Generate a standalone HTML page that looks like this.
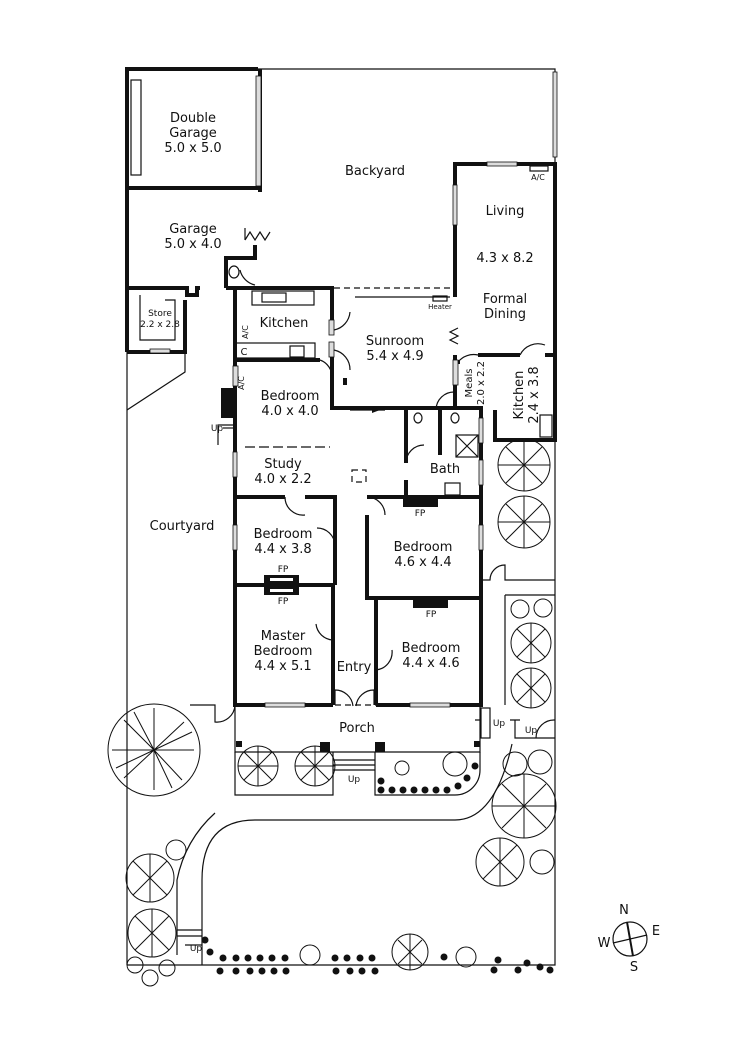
<!DOCTYPE html>
<html><head><meta charset="utf-8"><style>
html,body{margin:0;padding:0;background:#fff}
svg{display:block}
text{font-family:"DejaVu Sans","Liberation Sans",sans-serif;fill:#111;text-anchor:middle}
.t{font-size:13px}
.s{font-size:9px}
.w{stroke:#111;stroke-width:4;fill:none}
.n{stroke:#111;stroke-width:1.2;fill:none}
.d{stroke:#111;stroke-width:1.2;fill:none;stroke-dasharray:6 4}
.win{fill:#ddd;stroke:#111;stroke-width:0.8}
</style></head><body>
<svg width="750" height="1060" viewBox="0 0 750 1060" xmlns="http://www.w3.org/2000/svg">
<defs>
<g id="tree">
<circle r="1" fill="none" stroke="#111" stroke-width="1.2"/>
</g>
</defs>
<!-- lot boundary -->
<path class="n" d="M258 69 H555 V965 H127"/>
<rect class="win" x="553" y="72" width="4" height="85"/>
<!-- garage block -->
<path class="w" d="M200 69 H127 V352"/>
<path class="w" d="M258 69 H200"/>
<path class="w" d="M127 188 H260"/>
<path class="w" d="M260 69 V192"/>
<rect class="win" x="256" y="76" width="5" height="110"/>
<rect x="131" y="80" width="10" height="95" class="n"/>
<!-- garage lower / store -->
<path class="w" d="M127 288 H187 V295 H197 V288 H200"/>
<path class="w" d="M185 300 V352 H127"/>
<rect class="win" x="150" y="349" width="20" height="4"/>
<path class="n" d="M140 295 V340 H175 V300 H165"/>
<path class="n" d="M127 352 V965"/>
<path class="n" d="M185 352 V372 L127 410"/>
<!-- WC near garage -->
<path class="w" d="M226 288 V258 H255 V245"/>
<path class="n" d="M245 240 l5 -8 l5 8 l5 -8 l5 8 l5 -8 M245 240 V228"/>
<path class="n" d="M255 285 A20 20 0 0 1 240 270"/>
<ellipse cx="234" cy="272" rx="5" ry="6" class="n"/>
<!-- kitchen -->
<path class="w" d="M226 288 H332 V300"/>
<path class="w" d="M235 288 V360"/>
<path class="w" d="M332 300 V330 M332 350 V410"/>
<rect x="252" y="291" width="62" height="14" class="n"/>
<rect x="262" y="293" width="24" height="9" class="n"/>
<rect x="235" y="343" width="80" height="15" class="n"/>
<text class="s" x="244" y="355" style="font-size:10px">C</text>
<rect x="290" y="346" width="14" height="11" class="n"/>
<rect class="win" x="329" y="320" width="5" height="15"/>
<rect class="win" x="329" y="342" width="5" height="15"/>
<text class="t" x="284" y="327">Kitchen</text>
<text class="s" x="248" y="332" transform="rotate(-90 248 332)" style="font-size:8px">A/C</text>
<!-- dashed line to living -->
<path class="d" d="M334 288 H453"/>
<path class="n" d="M355 297 H450" stroke-width="2.2"/>
<rect x="433" y="296" width="14" height="5" class="n"/>
<text class="s" x="440" y="309" style="font-size:7px">Heater</text>
<!-- living wing -->
<path class="w" d="M455 297 V164 H555 V355"/>
<rect class="win" x="487" y="162" width="30" height="4"/>
<rect class="win" x="453" y="185" width="4" height="40"/>
<rect x="530" y="166" width="18" height="5" class="n"/>
<text class="s" x="538" y="180" style="font-size:8px">A/C</text>
<text class="t" x="505" y="215">Living</text>
<text class="t" x="505" y="262">4.3 x 8.2</text>
<text class="t" x="505" y="303">Formal</text>
<text class="t" x="505" y="318">Dining</text>
<!-- meals / kitchen -->
<path class="w" d="M455 355 V362 H460 M478 355 H520 M545 355 H555 V440 H495 V410"/>
<path class="n" d="M458 328 l-8 4 l8 4 l-8 4 l8 4"/>
<rect class="win" x="453" y="360" width="5" height="25"/>
<path class="w" d="M455 385 V410"/>
<path class="n" d="M458 362 A20 20 0 0 1 478 355 M520 355 A20 20 0 0 1 545 345"/>
<path class="n" d="M436 410 A18 18 0 0 1 455 392"/>
<text class="s" x="472" y="383" transform="rotate(-90 472 383)" style="font-size:10px">Meals</text>
<text class="s" x="484" y="383" transform="rotate(-90 484 383)" style="font-size:10px">2.0 x 2.2</text>
<text class="t" x="523" y="395" transform="rotate(-90 523 395)">Kitchen</text>
<text class="t" x="538" y="395" transform="rotate(-90 538 395)">2.4 x 3.8</text>
<rect x="540" y="415" width="12" height="22" class="n"/>
<!-- sunroom -->
<text class="t" x="395" y="345">Sunroom</text>
<text class="t" x="395" y="360">5.4 x 4.9</text>
<path class="n" d="M334 330 A20 20 0 0 0 350 312 M334 350 A20 20 0 0 1 350 370"/>
<!-- main house -->
<path class="w" d="M235 360 V705 H333 M376 705 H481 V408 H332"/>
<path class="w" d="M235 360 H320 M345 378 V385"/>
<rect x="221" y="388" width="12" height="30" fill="#111"/>
<rect class="win" x="233" y="366" width="5" height="20"/>
<text class="s" x="244" y="383" transform="rotate(-90 244 383)" style="font-size:8px">A/C</text>
<path class="n" d="M218 445 V425 H235"/>
<text class="s" x="217" y="431" style="font-size:9px">Up</text>
<path class="n" d="M223 428 H233"/>
<text class="t" x="290" y="400">Bedroom</text>
<text class="t" x="290" y="415">4.0 x 4.0</text>
<path class="n" d="M320 360 A18 18 0 0 1 332 378"/>
<path class="n" d="M245 447 H330" stroke-dasharray="10 4"/>
<text class="t" x="283" y="468">Study</text>
<text class="t" x="283" y="483">4.0 x 2.2</text>
<rect class="win" x="233" y="452" width="4" height="25"/>
<rect class="d" x="352" y="470" width="14" height="12" stroke-dasharray="3 2"/>
<!-- left rooms -->
<path class="w" d="M235 497 H285 M305 497 H335 V585 M235 585 H335"/>
<path class="w" d="M333 585 V705"/>
<path class="n" d="M285 497 A18 18 0 0 0 305 515 M335 545 A18 18 0 0 0 317 528 M333 640 A18 18 0 0 1 316 624"/>
<rect x="264" y="575" width="35" height="20" fill="#111"/>
<rect x="270" y="578" width="23" height="3" fill="#fff"/>
<rect x="270" y="589" width="23" height="3" fill="#fff"/>
<text class="s" x="283" y="572">FP</text>
<text class="s" x="283" y="604">FP</text>
<rect class="win" x="233" y="525" width="4" height="25"/>
<text class="t" x="283" y="538">Bedroom</text>
<text class="t" x="283" y="553">4.4 x 3.8</text>
<text class="t" x="283" y="640">Master</text>
<text class="t" x="283" y="655">Bedroom</text>
<text class="t" x="283" y="670">4.4 x 5.1</text>
<!-- bath -->
<path class="w" d="M406 408 V463 M406 480 V497 M440 408 V455"/>
<path class="n" d="M406 463 A18 18 0 0 1 424 445"/>
<rect x="456" y="435" width="22" height="22" class="n"/>
<path class="n" d="M456 435 L478 457 M478 435 L456 457"/>
<rect x="445" y="483" width="15" height="12" class="n"/>
<ellipse cx="418" cy="418" rx="4" ry="5" class="n"/>
<ellipse cx="455" cy="418" rx="4" ry="5" class="n"/>
<text class="t" x="445" y="473">Bath</text>
<rect class="win" x="479" y="418" width="4" height="25"/>
<rect class="win" x="479" y="460" width="4" height="25"/>
<path class="n" d="M350 410 H385" />
<path d="M372 407 L380 410 L372 413z" fill="#111"/>
<!-- right bedrooms -->
<path class="w" d="M367 497 H481 M367 515 V598 H481 M376 598 V705"/>
<path class="n" d="M367 497 A18 18 0 0 1 385 515"/>
<rect x="403" y="497" width="35" height="10" fill="#111"/>
<text class="s" x="420" y="516">FP</text>
<rect x="413" y="598" width="35" height="10" fill="#111"/>
<text class="s" x="431" y="617">FP</text>
<rect class="win" x="479" y="525" width="4" height="25"/>
<text class="t" x="423" y="551">Bedroom</text>
<text class="t" x="423" y="566">4.6 x 4.4</text>
<text class="t" x="431" y="652">Bedroom</text>
<text class="t" x="431" y="667">4.4 x 4.6</text>
<path class="n" d="M376 670 A18 18 0 0 0 392 650"/>
<text class="t" x="354" y="671">Entry</text>
<path class="n" d="M335 705 V690 A18 18 0 0 1 353 706 M374 705 V690 A18 18 0 0 0 356 706"/>
<path class="d" d="M335 705 H376" stroke-dasharray="4 3"/>
<rect class="win" x="265" y="703" width="40" height="4"/>
<rect class="win" x="410" y="703" width="40" height="4"/>
<!-- porch -->
<path class="n" d="M235 705 V752 H480 V705"/>
<text class="t" x="357" y="732">Porch</text>
<rect x="236" y="741" width="6" height="6" fill="#111"/>
<rect x="320" y="742" width="10" height="10" fill="#111"/>
<rect x="375" y="742" width="10" height="10" fill="#111"/>
<rect x="474" y="741" width="6" height="6" fill="#111"/>
<path class="n" d="M235 752 V795 H333 V752 M333 760 H375 M333 765 H375 M333 770 H375 M375 752 V795 H455 A25 25 0 0 0 480 770 V752"/>
<text class="s" x="354" y="782" style="font-size:9px">Up</text>
<rect class="n" x="481" y="708" width="9" height="30"/>
<text class="s" x="499" y="726">Up</text>
<path class="n" d="M481 720 H475 M520 720 H510"/>
<text class="s" x="531" y="733">Up</text>
<!-- right side strip -->
<path class="n" d="M481 580 H490 A15 15 0 0 1 505 565 V580 H555 M505 595 H555 M505 595 V705 M515 720 V738 H555 M536 738 A18 18 0 0 1 555 720"/>
<path class="n" d="M190 705 H215 V722 A18 18 0 0 0 235 705"/>
<!-- driveway -->
<path class="n" d="M202 965 V880 Q202 820 255 820 H455 Q495 820 512 744"/>
<path class="n" d="M177 955 V880 Q185 840 215 813"/>
<path class="n" d="M177 930 H202 M177 936 H202"/>
<text class="s" x="196" y="951">Up</text>
<path class="n" d="M202 945 L185 945"/>
<!-- trees -->
<g fill="none" stroke="#111" stroke-width="1">
<circle cx="154" cy="750" r="46"/>
<path d="M154 750 l-30 -30 M154 750 l0 -42 M154 750 l30 -28 M154 750 l40 0 M154 750 l28 30 M154 750 l0 40 M154 750 l-30 28 M154 750 l-42 0 M154 750 l-20 -38 M154 750 l38 -18 M154 750 l18 38 M154 750 l-38 18"/>
<circle cx="258" cy="766" r="20"/><path d="M258 766 l-14 -14 M258 766 l14 -14 M258 766 l14 14 M258 766 l-14 14 M258 766 v-20 M258 766 v20 M258 766 h20 M258 766 h-20"/>
<circle cx="315" cy="766" r="20"/><path d="M315 766 l-14 -14 M315 766 l14 -14 M315 766 l14 14 M315 766 l-14 14 M315 766 v-20 M315 766 v20 M315 766 h20 M315 766 h-20"/>
<circle cx="524" cy="465" r="26"/><path d="M524 465 l-18 -18 M524 465 l18 -18 M524 465 l18 18 M524 465 l-18 18 M524 465 v-26 M524 465 v26 M524 465 h26 M524 465 h-26"/>
<circle cx="524" cy="522" r="26"/><path d="M524 522 l-18 -18 M524 522 l18 -18 M524 522 l18 18 M524 522 l-18 18 M524 522 v-26 M524 522 v26 M524 522 h26 M524 522 h-26"/>
<circle cx="520" cy="609" r="9"/><circle cx="543" cy="608" r="9"/>
<circle cx="531" cy="643" r="20"/><path d="M531 643 l-14 -14 M531 643 l14 -14 M531 643 l14 14 M531 643 l-14 14 M531 643 v-20 M531 643 v20"/>
<circle cx="531" cy="688" r="20"/><path d="M531 688 l-14 -14 M531 688 l14 -14 M531 688 l14 14 M531 688 l-14 14 M531 688 v-20 M531 688 v20"/>
<circle cx="515" cy="764" r="12"/><circle cx="540" cy="762" r="12"/>
<circle cx="524" cy="806" r="32"/><path d="M524 806 l-22 -22 M524 806 l22 -22 M524 806 l22 22 M524 806 l-22 22 M524 806 v-32 M524 806 v32 M524 806 h32 M524 806 h-32"/>
<circle cx="500" cy="862" r="24"/><path d="M500 862 l-17 -17 M500 862 l17 -17 M500 862 l17 17 M500 862 l-17 17 M500 862 v-24 M500 862 v24"/>
<circle cx="542" cy="862" r="12"/>
<circle cx="176" cy="850" r="10"/>
<circle cx="150" cy="878" r="24"/><path d="M150 878 l-17 -17 M150 878 l17 -17 M150 878 l17 17 M150 878 l-17 17 M150 878 v-24 M150 878 v24"/>
<circle cx="152" cy="933" r="24"/><path d="M152 933 l-17 -17 M152 933 l17 -17 M152 933 l17 17 M152 933 l-17 17 M152 933 v-24 M152 933 v24"/>
<circle cx="135" cy="965" r="8"/><circle cx="150" cy="978" r="8"/><circle cx="167" cy="968" r="8"/>
<circle cx="410" cy="952" r="18"/><path d="M410 952 l-12 -12 M410 952 l12 -12 M410 952 l12 12 M410 952 l-12 12 M410 952 v-18 M410 952 v18"/>
<circle cx="310" cy="955" r="10"/><circle cx="466" cy="957" r="10"/>
<circle cx="402" cy="768" r="7"/><circle cx="455" cy="764" r="12"/>
</g>
<g fill="#111">
<circle cx="381" cy="781" r="3.5"/><circle cx="381" cy="790" r="3.5"/><circle cx="392" cy="790" r="3.5"/><circle cx="403" cy="790" r="3.5"/><circle cx="414" cy="790" r="3.5"/><circle cx="425" cy="790" r="3.5"/><circle cx="436" cy="790" r="3.5"/><circle cx="447" cy="790" r="3.5"/><circle cx="458" cy="786" r="3.5"/><circle cx="467" cy="778" r="3.5"/><circle cx="475" cy="766" r="3.5"/>
<circle cx="205" cy="940" r="3.5"/><circle cx="210" cy="952" r="3.5"/>
<circle cx="223" cy="958" r="3.5"/><circle cx="236" cy="958" r="3.5"/><circle cx="248" cy="958" r="3.5"/><circle cx="260" cy="958" r="3.5"/><circle cx="272" cy="958" r="3.5"/><circle cx="285" cy="958" r="3.5"/><circle cx="335" cy="958" r="3.5"/><circle cx="347" cy="958" r="3.5"/><circle cx="360" cy="958" r="3.5"/><circle cx="372" cy="958" r="3.5"/>
<circle cx="220" cy="971" r="3.5"/><circle cx="236" cy="971" r="3.5"/><circle cx="250" cy="971" r="3.5"/><circle cx="262" cy="971" r="3.5"/><circle cx="274" cy="971" r="3.5"/><circle cx="286" cy="971" r="3.5"/><circle cx="336" cy="971" r="3.5"/><circle cx="350" cy="971" r="3.5"/><circle cx="362" cy="971" r="3.5"/><circle cx="375" cy="971" r="3.5"/>
<circle cx="444" cy="957" r="3.5"/><circle cx="494" cy="970" r="3.5"/><circle cx="498" cy="960" r="3.5"/><circle cx="518" cy="970" r="3.5"/><circle cx="527" cy="963" r="3.5"/><circle cx="540" cy="967" r="3.5"/><circle cx="550" cy="970" r="3.5"/>
</g>
<!-- labels -->
<text class="t" x="193" y="122">Double</text>
<text class="t" x="193" y="137">Garage</text>
<text class="t" x="193" y="152">5.0 x 5.0</text>
<text class="t" x="375" y="175">Backyard</text>
<text class="t" x="193" y="233">Garage</text>
<text class="t" x="193" y="248">5.0 x 4.0</text>
<text class="s" x="160" y="316">Store</text>
<text class="s" x="160" y="327">2.2 x 2.8</text>
<text class="t" x="182" y="530">Courtyard</text>
<!-- compass -->
<g fill="none" stroke="#111" stroke-width="1.2">
<circle cx="630" cy="939" r="17"/>
<path d="M627 922 L633 956" stroke-width="2"/>
<path d="M613 943 L647 935"/>
</g>
<text class="t" x="624" y="914">N</text>
<text class="t" x="656" y="935">E</text>
<text class="t" x="604" y="947">W</text>
<text class="t" x="634" y="971">S</text>
</svg>
</body></html>
